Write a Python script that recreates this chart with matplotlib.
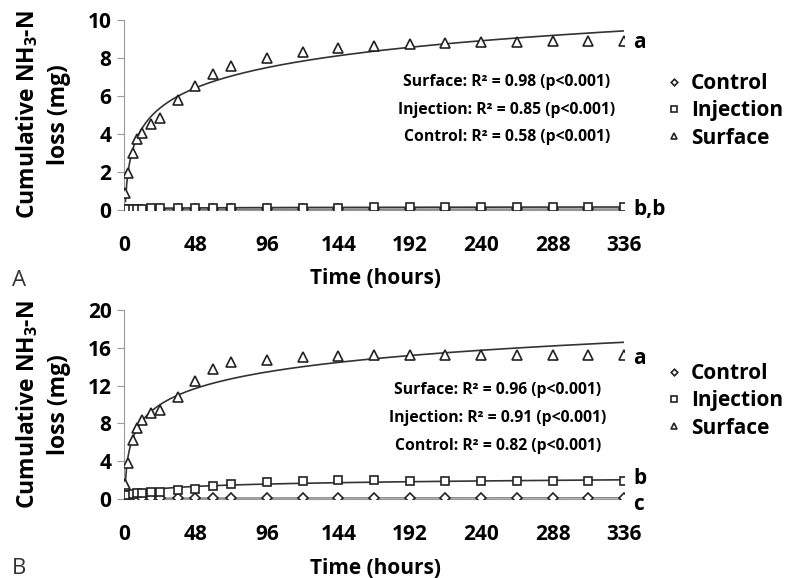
import numpy as np
import matplotlib
matplotlib.use('Agg')
import matplotlib.pyplot as plt

matplotlib.rc('font', family=['Open Sans', 'DejaVu Sans'], weight='bold')
matplotlib.rc('axes', labelweight='bold')
matplotlib.rc('mathtext', fontset='custom', rm='Open Sans', bf='Open Sans:bold')

# sampling times (hours)
hours = [1, 3, 6, 9, 12, 18, 24, 36, 48, 60, 72, 96, 120, 144, 168,
         192, 216, 240, 264, 288, 312, 336]

# panel A values (mg)
surface_A = [0.88, 1.95, 3.0, 3.72, 4.07, 4.52, 4.82, 5.8, 6.53, 7.18, 7.56,
             7.98, 8.33, 8.52, 8.65, 8.75, 8.8, 8.82, 8.85, 8.88, 8.9, 8.9]
injection_A = [0.05, 0.06, 0.06, 0.07, 0.07, 0.08, 0.08, 0.09, 0.1, 0.1, 0.11,
               0.12, 0.13, 0.13, 0.14, 0.15, 0.15, 0.16, 0.16, 0.17, 0.17, 0.17]
control_A = [0.01, 0.01, 0.02, 0.02, 0.02, 0.02, 0.03, 0.03, 0.03, 0.03, 0.03,
             0.04, 0.04, 0.04, 0.04, 0.05, 0.05, 0.05, 0.05, 0.05, 0.05, 0.05]

# panel B values (mg)
surface_B = [1.55, 3.8, 6.25, 7.55, 8.35, 9.05, 9.45, 10.75, 12.45, 13.75, 14.45,
             14.75, 15.05, 15.15, 15.2, 15.25, 15.25, 15.2, 15.2, 15.2, 15.2, 15.2]
injection_B = [0.4, 0.45, 0.52, 0.6, 0.65, 0.72, 0.78, 0.92, 1.08, 1.35, 1.55,
               1.75, 1.92, 1.98, 1.98, 1.92, 1.95, 1.95, 1.95, 1.95, 1.95, 1.95]
control_B = [0.05, 0.06, 0.07, 0.08, 0.08, 0.09, 0.09, 0.1, 0.1, 0.1, 0.11,
             0.11, 0.11, 0.12, 0.12, 0.12, 0.12, 0.12, 0.12, 0.12, 0.12, 0.12]

stats_A = ["Surface: R\u00b2 = 0.98 (p<0.001)",
           "Injection: R\u00b2 = 0.85 (p<0.001)",
           "Control: R\u00b2 = 0.58 (p<0.001)"]
stats_B = ["Surface: R\u00b2 = 0.96 (p<0.001)",
           "Injection: R\u00b2 = 0.91 (p<0.001)",
           "Control: R\u00b2 = 0.82 (p<0.001)"]

xticks = [0, 48, 96, 144, 192, 240, 288, 336]

W, H = 788, 578
fig = plt.figure(figsize=(W/100, H/100), dpi=100, facecolor='w')

def fit_line(ax, t, y, color, lw):
    # logarithmic trendline, like the spreadsheet one
    k, c = np.polyfit(np.log(t), y, 1)
    tt = np.linspace(min(t), max(t), 400)
    ax.plot(tt, k*np.log(tt) + c, color=color, lw=lw, zorder=2)

def panel(rect, ymax, ystep, control, injection, surface, stats, stat_x, stat_y,
          leg_y, letters, panel_letter, letter_y, xlabel_y):
    ax = fig.add_axes(rect)
    t = np.array(hours, dtype=float)
    fit_line(ax, t, control, '#777777', 1.0)
    fit_line(ax, t, injection, '#333333', 1.2)
    fit_line(ax, t, surface, '#333333', 1.2)
    h1, = ax.plot(t, control, ls='none', marker='D', ms=4.8, mfc='w', mec='#222222', mew=1.2, zorder=3)
    h2, = ax.plot(t, injection, ls='none', marker='s', ms=6.2, mfc='w', mec='#222222', mew=1.2, zorder=4)
    h3, = ax.plot(t, surface, ls='none', marker='^', ms=7, mfc='w', mec='#222222', mew=1.2, zorder=5)
    ax.set_xlim(0, 336)
    ax.set_ylim(0, ymax)
    ax.set_xticks(xticks)
    ax.set_yticks(np.arange(0, ymax + 0.1, ystep))
    ax.tick_params(axis='x', length=0, labelsize=15, pad=18)
    ax.tick_params(axis='y', length=5, color='#999999', labelsize=15, pad=4)
    for s in ['top', 'right']:
        ax.spines[s].set_visible(False)
    ax.spines['left'].set_color('#999999')
    ax.spines['bottom'].set_color('#999999')
    ax.set_ylabel("Cumulative NH$_\\mathbf{3}$-N\nloss (mg)", fontsize=16.5,
                  labelpad=12, linespacing=1.4)
    fig.text(376/W, 1 - xlabel_y/H, "Time (hours)", ha='center', va='center', fontsize=15)
    fig.text(12/W, 1 - letter_y/H, panel_letter, ha='left', va='center', fontsize=16,
             fontweight='normal', color='#333333')
    for i, s in enumerate(stats):
        fig.text(stat_x/W, 1 - stat_y[i]/H, s, ha='center', va='center', fontsize=11.3)
    for txt, (lx, ly) in letters:
        fig.text(lx/W, 1 - ly/H, txt, ha='left', va='center', fontsize=15)
    ax.legend([h1, h2, h3], ["Control", "Injection", "Surface"], loc='upper left',
              bbox_to_anchor=(668/W, 1 - leg_y/H), bbox_transform=fig.transFigure,
              frameon=False, fontsize=15, handlelength=0.6, handletextpad=0.5,
              labelspacing=0.3, borderaxespad=0, borderpad=0, markerscale=0.7)
    return ax

panel([124/W, 1 - 210/H, 500/W, 190/H], 10, 2, control_A, injection_A, surface_A,
      stats_A, 507, [82, 110, 137], 73,
      [("a", (633, 42)), ("b,b", (633, 210))], "A", 280, 279)
panel([124/W, 1 - 499/H, 500/W, 189/H], 20, 4, control_B, injection_B, surface_B,
      stats_B, 498, [390, 418, 446], 363,
      [("a", (633, 358)), ("b", (633, 478)), ("c", (633, 505))], "B", 568, 569)

fig.savefig('out.png', dpi=100)
